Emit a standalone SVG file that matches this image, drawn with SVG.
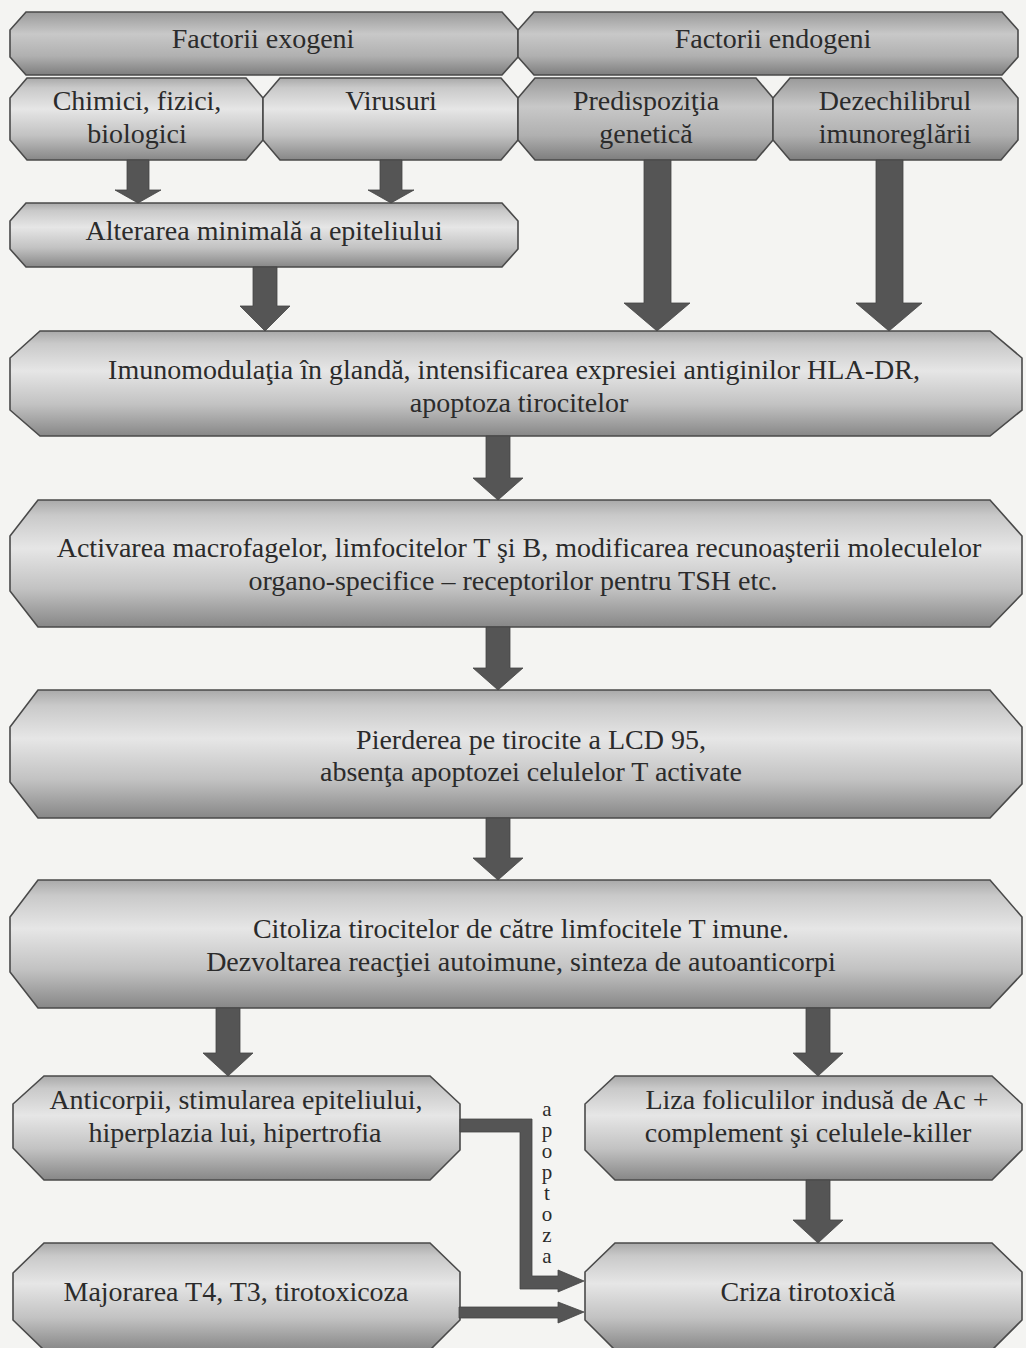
<svg xmlns="http://www.w3.org/2000/svg" width="1026" height="1348" viewBox="0 0 1026 1348">
  <defs>
    <linearGradient id="boxFill" x1="0" y1="0" x2="0" y2="1">
      <stop offset="0" stop-color="#a9a9a9"/>
      <stop offset="0.12" stop-color="#c9c9c9"/>
      <stop offset="0.38" stop-color="#e6e6e6"/>
      <stop offset="0.7" stop-color="#c2c2c2"/>
      <stop offset="1" stop-color="#878787"/>
    </linearGradient>
    <linearGradient id="boxFillDark" x1="0" y1="0" x2="0" y2="1">
      <stop offset="0" stop-color="#9a9a9a"/>
      <stop offset="0.35" stop-color="#c8c8c8"/>
      <stop offset="0.7" stop-color="#b0b0b0"/>
      <stop offset="1" stop-color="#7e7e7e"/>
    </linearGradient>
    <style>
      .box { fill: url(#boxFill); stroke: #4a4a4a; stroke-width: 1.6; }
      .box.top { fill: url(#boxFillDark); }
      text { font-family: 'Liberation Serif', 'DejaVu Serif', serif; fill: #2b2b2b; text-anchor: middle; }
      .lbl { font-size: 28px; }
      .side { font-size: 21px; writing-mode: vertical-rl; text-orientation: upright; text-anchor: start; letter-spacing: -3px; }
      .arrow { fill: #555555; stroke: #444444; stroke-width: 0.8; }
    </style>
  </defs>

  <rect width="1026" height="1348" fill="#f4f4f2"/>

  <!-- factor groups -->
  <g id="factorii-exogeni">
    <path class="box top" d="M26,12 L502,12 L518,30 L518,57 L502,75 L26,75 L10,57 L10,30 Z"/>
    <text class="lbl" x="263" y="48">Factorii exogeni</text>
  </g>
  <g id="factorii-endogeni">
    <path class="box top" d="M534,12 L1002,12 L1018,30 L1018,57 L1002,75 L534,75 L518,57 L518,30 Z"/>
    <text class="lbl" x="773" y="48">Factorii endogeni</text>
  </g>

  <!-- individual factors -->
  <g id="chimici">
    <path class="box" d="M27,78 L246,78 L263,98 L263,140 L246,160 L27,160 L10,140 L10,98 Z"/>
    <text class="lbl" x="137" y="110">Chimici, fizici,</text>
    <text class="lbl" x="137" y="143">biologici</text>
  </g>
  <g id="virusuri">
    <path class="box" d="M280,78 L501,78 L518,98 L518,140 L501,160 L280,160 L263,140 L263,98 Z"/>
    <text class="lbl" x="391" y="110">Virusuri</text>
  </g>
  <g id="predispozitia">
    <path class="box top" d="M535,78 L756,78 L773,98 L773,140 L756,160 L535,160 L518,140 L518,98 Z"/>
    <text class="lbl" x="646" y="110">Predispoziţia</text>
    <text class="lbl" x="646" y="143">genetică</text>
  </g>
  <g id="dezechilibru">
    <path class="box top" d="M790,78 L1001,78 L1018,98 L1018,140 L1001,160 L790,160 L773,140 L773,98 Z"/>
    <text class="lbl" x="895" y="110">Dezechilibrul</text>
    <text class="lbl" x="895" y="143">imunoreglării</text>
  </g>

  <g id="alterarea">
    <path class="box" d="M26,203 L502,203 L518,221 L518,249 L502,267 L26,267 L10,249 L10,221 Z"/>
    <text class="lbl" x="264" y="240">Alterarea minimală a epiteliului</text>
  </g>

  <!-- main chain -->
  <g id="imunomodulatia">
    <path class="box" d="M40,331 L990,331 L1022,358 L1022,410 L990,436 L40,436 L10,410 L10,358 Z"/>
    <text class="lbl" x="514" y="379">Imunomodulaţia în glandă, intensificarea expresiei antiginilor HLA-DR,</text>
    <text class="lbl" x="519" y="412">apoptoza tirocitelor</text>
  </g>
  <g id="activarea">
    <path class="box" d="M38,500 L990,500 L1022,536 L1022,594 L990,627 L38,627 L10,591 L10,536 Z"/>
    <text class="lbl" x="519" y="557">Activarea macrofagelor, limfocitelor T şi B, modificarea recunoaşterii moleculelor</text>
    <text class="lbl" x="513" y="590">organo-specifice – receptorilor pentru TSH etc.</text>
  </g>
  <g id="pierderea">
    <path class="box" d="M38,690 L990,690 L1022,727 L1022,784 L990,818 L38,818 L10,782 L10,727 Z"/>
    <text class="lbl" x="531" y="749">Pierderea pe tirocite a LCD 95,</text>
    <text class="lbl" x="531" y="781">absenţa apoptozei celulelor T activate</text>
  </g>
  <g id="citoliza">
    <path class="box" d="M38,880 L990,880 L1022,917 L1022,974 L990,1008 L38,1008 L10,972 L10,917 Z"/>
    <text class="lbl" x="521" y="938">Citoliza tirocitelor de către limfocitele T imune.</text>
    <text class="lbl" x="521" y="971">Dezvoltarea reacţiei autoimune, sinteza de autoanticorpi</text>
  </g>

  <!-- outcomes -->
  <g id="anticorpii">
    <path class="box" d="M44,1076 L430,1076 L460,1104 L460,1150 L430,1180 L44,1180 L13,1148 L13,1104 Z"/>
    <text class="lbl" x="236" y="1109">Anticorpii, stimularea epiteliului,</text>
    <text class="lbl" x="235" y="1142">hiperplazia lui, hipertrofia</text>
  </g>
  <g id="liza">
    <path class="box" d="M615,1076 L992,1076 L1022,1104 L1022,1150 L992,1180 L615,1180 L585,1150 L585,1104 Z"/>
    <text class="lbl" x="817" y="1109">Liza foliculilor indusă de Ac +</text>
    <text class="lbl" x="808" y="1142">complement şi celulele-killer</text>
  </g>
  <g id="majorarea">
    <path class="box" d="M44,1243 L430,1243 L460,1272 L460,1320 L430,1350 L44,1350 L13,1320 L13,1273 Z"/>
    <text class="lbl" x="236" y="1301">Majorarea T4, T3, tirotoxicoza</text>
  </g>
  <g id="criza">
    <path class="box" d="M615,1243 L992,1243 L1022,1272 L1022,1320 L992,1350 L615,1350 L585,1320 L585,1272 Z"/>
    <text class="lbl" x="808" y="1301">Criza tirotoxică</text>
  </g>

  <!-- connectors -->
  <g id="connectors">
    <polygon class="arrow" points="127,160 149,160 149,190 161,190 138,203 115,190 127,190"/>
    <polygon class="arrow" points="380,160 402,160 402,190 414,190 391,203 368,190 380,190"/>
    <polygon class="arrow" points="253,267 277,267 277,306 290,306 265,331 240,306 253,306"/>
    <polygon class="arrow" points="644,160 671,160 671,303 690,303 657,331 624,303 644,303"/>
    <polygon class="arrow" points="876,160 903,160 903,303 922,303 889,331 856,303 876,303"/>
    <polygon class="arrow" points="486,436 510,436 510,478 523,478 498,500 473,478 486,478"/>
    <polygon class="arrow" points="486,627 510,627 510,668 523,668 498,690 473,668 486,668"/>
    <polygon class="arrow" points="486,818 510,818 510,858 523,858 498,880 473,858 486,858"/>
    <polygon class="arrow" points="216,1008 240,1008 240,1053 253,1053 228,1076 203,1053 216,1053"/>
    <polygon class="arrow" points="806,1008 830,1008 830,1053 843,1053 818,1076 793,1053 806,1053"/>
    <polygon class="arrow" points="806,1180 830,1180 830,1220 843,1220 818,1243 793,1220 806,1220"/>
    <polygon class="arrow" points="460,1119 532,1119 532,1276 558,1276 558,1270 584,1281 558,1292 558,1289 520,1289 520,1132 460,1132"/>
    <polygon class="arrow" points="459,1307 558,1307 558,1302 584,1312 558,1323 558,1318 459,1318"/>
    <text class="side" x="547" y="1097">apoptoza</text>
  </g>
</svg>
